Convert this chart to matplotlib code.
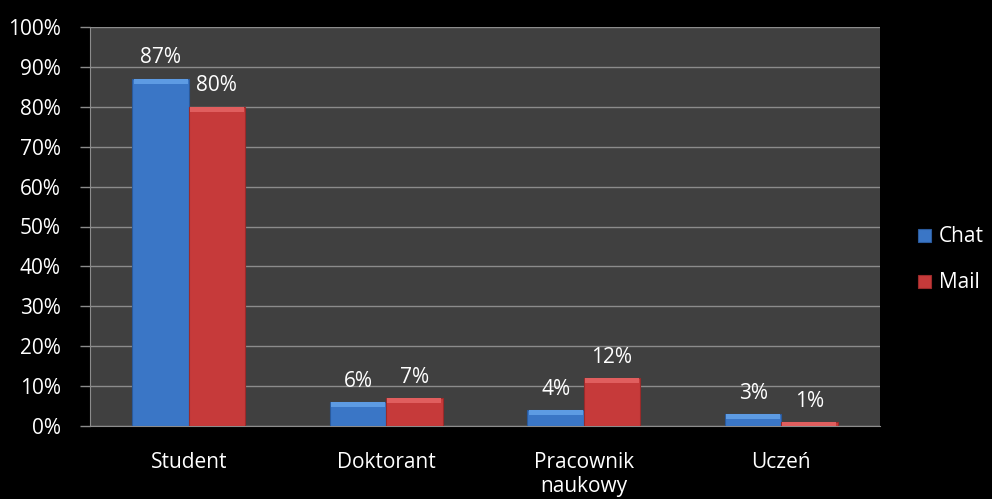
import matplotlib
matplotlib.use("Agg")
import matplotlib.pyplot as plt
import numpy as np
from matplotlib.ticker import FuncFormatter, MultipleLocator

categories = ["Student", "Doktorant", "Pracownik\nnaukowy", "Uczeń"]
series_names = ["Chat", "Mail"]
chat = [87, 6, 4, 3]
mail = [80, 7, 12, 1]

plt.rcParams["font.family"] = ["Open Sans", "DejaVu Sans"]
FS = 15

fig = plt.figure(figsize=(9.92, 4.99), dpi=100, facecolor="black")
ax = fig.add_axes([90 / 992, 1 - 426 / 499, 790 / 992, 399 / 499])
ax.set_facecolor("#404040")

x = np.arange(len(categories))
w = 0.285
styles = [
    (chat, "#3a76c6", "#5d9be3", "#2a5a9c"),
    (mail, "#c63a3a", "#e05e5e", "#9a2a2a"),
]
handles = []
for i, (vals, base, light, dark) in enumerate(styles):
    pos = x + (i - 0.5) * w
    bars = ax.bar(pos, vals, width=w, color=base, edgecolor=dark, linewidth=0.8,
                  label=series_names[i], zorder=3)
    handles.append(bars)
    # bevelled top edge of each bar
    cap = [min(v, 1.2) for v in vals]
    ax.bar(pos, cap, width=w * 0.96, bottom=[v - c for v, c in zip(vals, cap)],
           color=light, linewidth=0, zorder=4)
    for p, v in zip(pos, vals):
        ax.text(p, v + 2.6, f"{v}%", ha="center", va="bottom", color="white",
                fontsize=FS, zorder=5)

ax.set_xlim(-0.5, len(categories) - 0.5)
ax.set_ylim(0, 100)
ax.yaxis.set_major_locator(MultipleLocator(10))
ax.yaxis.set_major_formatter(FuncFormatter(lambda v, _: f"{v:.0f}%"))
ax.grid(axis="y", color="#8c8c8c", linewidth=1, zorder=0)
ax.set_axisbelow(True)

ax.set_xticks(x)
ax.set_xticklabels(categories, color="white", fontsize=FS, va="top",
                   linespacing=1.15)
ax.tick_params(axis="x", length=0, pad=19)
ax.tick_params(axis="y", colors="white", labelsize=FS, length=7, width=1,
               color="#8c8c8c", pad=14)
for s in ["top", "right"]:
    ax.spines[s].set_visible(False)
ax.spines["left"].set_color("#8c8c8c")
ax.spines["bottom"].set_color("#8c8c8c")

fig.legend(handles=handles, labels=series_names,
           loc="center left", bbox_to_anchor=(908 / 992, 1 - 260 / 499),
           frameon=False, fontsize=FS, labelcolor="white",
           handlelength=0.6, handleheight=0.6, handletextpad=0.4,
           labelspacing=1.2, borderpad=0)

fig.savefig("out.png", dpi=100, facecolor="black")
